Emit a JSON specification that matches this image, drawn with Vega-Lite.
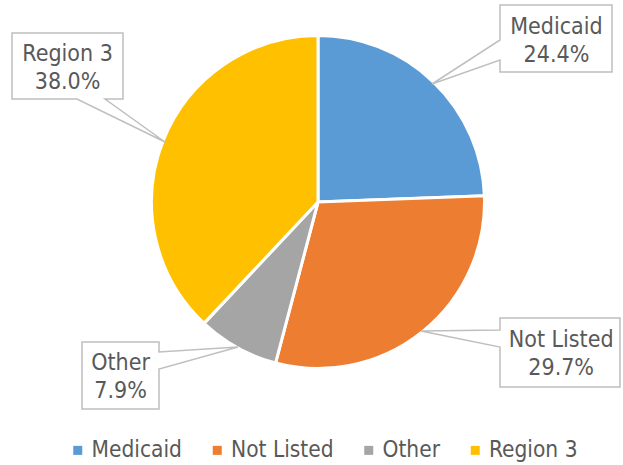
{
  "$schema": "https://vega.github.io/schema/vega-lite/v6.json",
  "width": 610,
  "height": 404,
  "padding": {"left": 13, "top": 0, "right": 0, "bottom": 61},
  "autosize": {"type": "none"},
  "background": "white",
  "config": {
    "view": {"stroke": null},
    "font": "DejaVu Sans Condensed, DejaVu Sans"
  },
  "data": {
    "values": [
      {"category": "Medicaid", "share": 0.244},
      {"category": "Not Listed", "share": 0.297},
      {"category": "Other", "share": 0.079},
      {"category": "Region 3", "share": 0.380}
    ]
  },
  "layer": [
    {
      "mark": {"type": "arc", "outerRadius": 166.5, "stroke": "white", "strokeWidth": 3},
      "encoding": {
        "theta": {"field": "share", "type": "quantitative", "stack": true},
        "order": {"field": "category", "type": "ordinal", "sort": "ascending"},
        "color": {
          "field": "category",
          "type": "nominal",
          "scale": {
            "domain": ["Medicaid", "Not Listed", "Other", "Region 3"],
            "range": ["#5B9BD5", "#ED7D31", "#A5A5A5", "#FFC000"]
          },
          "legend": {
            "title": null,
            "orient": "none",
            "legendX": 53.5,
            "legendY": 439,
            "direction": "horizontal",
            "symbolType": "square",
            "symbolSize": 81,
            "symbolStrokeWidth": 0,
            "labelFontSize": 22.5,
            "labelColor": "#595959",
            "labelFont": "DejaVu Sans Condensed, DejaVu Sans",
            "labelOffset": 2.5,
            "columnPadding": 23.5,
            "padding": 0
          }
        }
      }
    },
    {
      "transform": [{"filter": "datum.category === 'Medicaid'"}],
      "mark": {"type": "point", "size": 4, "fill": "white", "stroke": "#BFBFBF", "strokeWidth": 1.5, "opacity": 1, "fillOpacity": 1,
        "shape": "M182,-197L294,-197L294,-130L182,-130L182,-142L114,-118L182,-162Z"},
      "encoding": {}
    },
    {
      "transform": [{"filter": "datum.category === 'Not Listed'"}],
      "mark": {"type": "point", "size": 4, "fill": "white", "stroke": "#BFBFBF", "strokeWidth": 1.5, "opacity": 1, "fillOpacity": 1,
        "shape": "M182,116L302,116L302,185L182,185L182,145L103,129L182,128Z"},
      "encoding": {}
    },
    {
      "transform": [{"filter": "datum.category === 'Other'"}],
      "mark": {"type": "point", "size": 4, "fill": "white", "stroke": "#BFBFBF", "strokeWidth": 1.5, "opacity": 1, "fillOpacity": 1,
        "shape": "M-236,140L-159,140L-159,150L-80,145L-159,167L-159,207L-236,207Z"},
      "encoding": {}
    },
    {
      "transform": [{"filter": "datum.category === 'Region 3'"}],
      "mark": {"type": "point", "size": 4, "fill": "white", "stroke": "#BFBFBF", "strokeWidth": 1.5, "opacity": 1, "fillOpacity": 1,
        "shape": "M-306,-169L-195,-169L-195,-103L-213,-103L-153,-60L-241,-103L-306,-103Z"},
      "encoding": {}
    },
    {
      "mark": {"type": "text", "radius": 165, "dx": 124, "dy": -56, "fontSize": 23, "color": "#595959"},
      "encoding": {
        "theta": {"field": "share", "type": "quantitative", "stack": true},
        "order": {"field": "category", "type": "ordinal", "sort": "ascending"},
        "detail": {"field": "category", "type": "nominal"},
        "text": {"condition": {"test": "datum.category === 'Medicaid'", "field": "category", "type": "nominal"}, "value": ""}
      }
    },
    {
      "mark": {"type": "text", "radius": 165, "dx": 124, "dy": -28, "fontSize": 23, "color": "#595959"},
      "encoding": {
        "theta": {"field": "share", "type": "quantitative", "stack": true},
        "order": {"field": "category", "type": "ordinal", "sort": "ascending"},
        "detail": {"field": "category", "type": "nominal"},
        "text": {"condition": {"test": "datum.category === 'Medicaid'", "field": "share", "type": "quantitative", "format": ".1%"}, "value": ""}
      }
    },
    {
      "mark": {"type": "text", "radius": 165, "dx": 140, "dy": 9, "fontSize": 23, "color": "#595959"},
      "encoding": {
        "theta": {"field": "share", "type": "quantitative", "stack": true},
        "order": {"field": "category", "type": "ordinal", "sort": "ascending"},
        "detail": {"field": "category", "type": "nominal"},
        "text": {"condition": {"test": "datum.category === 'Not Listed'", "field": "category", "type": "nominal"}, "value": ""}
      }
    },
    {
      "mark": {"type": "text", "radius": 165, "dx": 140, "dy": 37, "fontSize": 23, "color": "#595959"},
      "encoding": {
        "theta": {"field": "share", "type": "quantitative", "stack": true},
        "order": {"field": "category", "type": "ordinal", "sort": "ascending"},
        "detail": {"field": "category", "type": "nominal"},
        "text": {"condition": {"test": "datum.category === 'Not Listed'", "field": "share", "type": "quantitative", "format": ".1%"}, "value": ""}
      }
    },
    {
      "mark": {"type": "text", "radius": 165, "dx": -117.5, "dy": 17, "fontSize": 23, "color": "#595959"},
      "encoding": {
        "theta": {"field": "share", "type": "quantitative", "stack": true},
        "order": {"field": "category", "type": "ordinal", "sort": "ascending"},
        "detail": {"field": "category", "type": "nominal"},
        "text": {"condition": {"test": "datum.category === 'Other'", "field": "category", "type": "nominal"}, "value": ""}
      }
    },
    {
      "mark": {"type": "text", "radius": 165, "dx": -117.5, "dy": 45, "fontSize": 23, "color": "#595959"},
      "encoding": {
        "theta": {"field": "share", "type": "quantitative", "stack": true},
        "order": {"field": "category", "type": "ordinal", "sort": "ascending"},
        "detail": {"field": "category", "type": "nominal"},
        "text": {"condition": {"test": "datum.category === 'Other'", "field": "share", "type": "quantitative", "format": ".1%"}, "value": ""}
      }
    },
    {
      "mark": {"type": "text", "radius": 165, "dx": -97, "dy": -87, "fontSize": 23, "color": "#595959"},
      "encoding": {
        "theta": {"field": "share", "type": "quantitative", "stack": true},
        "order": {"field": "category", "type": "ordinal", "sort": "ascending"},
        "detail": {"field": "category", "type": "nominal"},
        "text": {"condition": {"test": "datum.category === 'Region 3'", "field": "category", "type": "nominal"}, "value": ""}
      }
    },
    {
      "mark": {"type": "text", "radius": 165, "dx": -97, "dy": -59, "fontSize": 23, "color": "#595959"},
      "encoding": {
        "theta": {"field": "share", "type": "quantitative", "stack": true},
        "order": {"field": "category", "type": "ordinal", "sort": "ascending"},
        "detail": {"field": "category", "type": "nominal"},
        "text": {"condition": {"test": "datum.category === 'Region 3'", "field": "share", "type": "quantitative", "format": ".1%"}, "value": ""}
      }
    }
  ]
}
